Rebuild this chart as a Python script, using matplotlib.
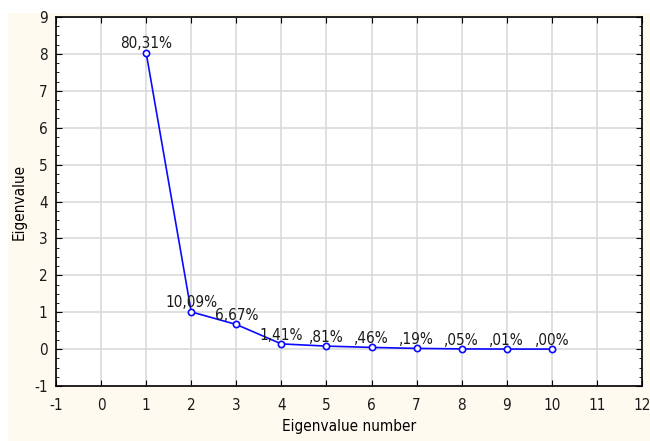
import matplotlib
matplotlib.use("Agg")
import matplotlib.pyplot as plt
from matplotlib.patches import Rectangle
from matplotlib.ticker import AutoMinorLocator
from matplotlib import font_manager

numbers = [1, 2, 3, 4, 5, 6, 7, 8, 9, 10]
eigenvalues = [8.031, 1.009, 0.667, 0.141, 0.081, 0.046, 0.019, 0.005, 0.001, 0.000]
pct_labels = ["80,31%", "10,09%", "6,67%", "1,41%", ",81%", ",46%", ",19%", ",05%", ",01%", ",00%"]
xticks = list(range(-1, 13))
yticks = list(range(-1, 10))

cond = [f for f in font_manager.fontManager.ttflist
        if ('Condensed' in f.fname or 'Narrow' in f.fname)
        and 'Bold' not in f.fname and 'Oblique' not in f.fname and 'Italic' not in f.fname
        and 'Mono' not in f.fname and 'Serif' not in f.fname]
fp = font_manager.FontProperties(fname=cond[0].fname) if cond else None
plt.rcParams['axes.unicode_minus'] = False
plt.rcParams['font.family'] = ['Liberation Sans', 'DejaVu Sans']

def props(size):
    if fp is not None:
        p = fp.copy()
        p.set_size(size)
        return p
    return font_manager.FontProperties(family=['Liberation Sans', 'DejaVu Sans'], size=size)

fig = plt.figure(figsize=(6.5, 4.41), dpi=100)
fig.patch.set_facecolor('white')
fig.patches.append(Rectangle((8/650, 0), 1 - 8/650, (441 - 13)/441, transform=fig.transFigure,
                             facecolor='#fffaf0', edgecolor='none', zorder=-10))

ax = fig.add_axes([56/650, 1 - 386/441, (642 - 56)/650, (386 - 17)/441])
ax.set_facecolor('white')
ax.set_xlim(-1, 12)
ax.set_ylim(-1, 9)
ax.set_xticks(xticks)
ax.set_yticks(yticks)
ax.yaxis.set_minor_locator(AutoMinorLocator(4))
ax.grid(True, which='major', color='#dadada', linewidth=1.2)
ax.set_axisbelow(True)
ax.tick_params(axis='both', which='both', direction='in', top=True, right=True)
ax.tick_params(axis='both', which='major', length=4)
ax.tick_params(axis='x', which='major', pad=9)
ax.tick_params(axis='y', which='major', pad=6)
ax.tick_params(axis='both', which='minor', length=2)
for lab in ax.get_xticklabels() + ax.get_yticklabels():
    lab.set_fontproperties(props(11))
    lab.set_color('#1a1a1a')
for s in ax.spines.values():
    s.set_linewidth(1.2)
    s.set_color('black')

ax.plot(numbers, eigenvalues, color='#0a0aff', linewidth=1.2, marker='o', markersize=4.5,
        markerfacecolor='white', markeredgecolor='#0a0aff', markeredgewidth=1.2, zorder=3)

for x, y, lab in zip(numbers, eigenvalues, pct_labels):
    ax.annotate(lab, (x, y), xytext=(0, 1), textcoords='offset points',
                ha='center', va='bottom', fontproperties=props(11), color='#1a1a1a', zorder=4)

ax.set_xlabel('Eigenvalue number', fontproperties=props(11), labelpad=4)
ax.set_ylabel('Eigenvalue', fontproperties=props(11), labelpad=5)

fig.savefig('out.png', dpi=100, facecolor=fig.get_facecolor())
